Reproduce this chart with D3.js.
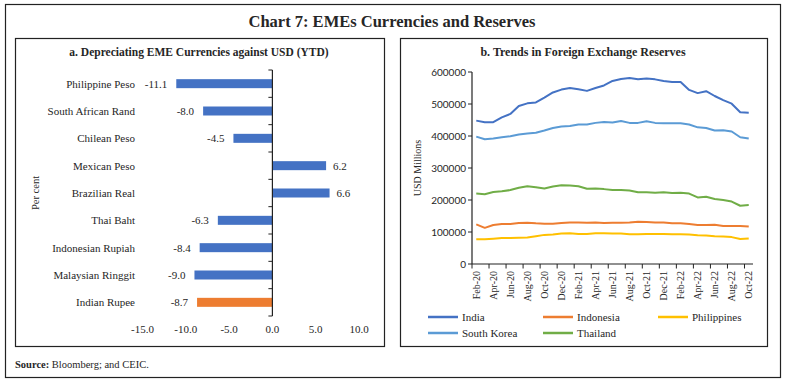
<!DOCTYPE html>
<html><head><meta charset="utf-8">
<script src="https://cdn.jsdelivr.net/npm/d3@7"></script>
<style>body{margin:0;background:#fff}svg{display:block}</style>
</head><body>
<svg id="c" width="785" height="383"></svg>
<script>
// ---- Data: panel a ----
const currencies = ["Philippine Peso","South African Rand","Chilean Peso","Mexican Peso","Brazilian Real","Thai Baht","Indonesian Rupiah","Malaysian Ringgit","Indian Rupee"];
const changes = [-11.1,-8.0,-4.5,6.2,6.6,-6.3,-8.4,-9.0,-8.7];
const xTicksA = [-15,-10,-5,0,5,10];
// ---- Data: panel b ----
const months = ["Feb-20","Mar-20","Apr-20","May-20","Jun-20","Jul-20","Aug-20","Sep-20","Oct-20","Nov-20","Dec-20","Jan-21","Feb-21","Mar-21","Apr-21","May-21","Jun-21","Jul-21","Aug-21","Sep-21","Oct-21","Nov-21","Dec-21","Jan-22","Feb-22","Mar-22","Apr-22","May-22","Jun-22","Jul-22","Aug-22","Sep-22","Oct-22"];
const india = [448000,443000,443000,458000,469000,494000,502000,505000,520000,536000,545000,550000,546000,541000,550000,558000,572000,578000,581000,577000,580000,577000,572000,569000,569000,544000,534000,540000,525000,512000,501000,474000,473000];
const indonesia = [124000,113000,122000,125000,125000,128000,129000,127000,126000,126000,128000,130000,130000,129000,130000,128000,129000,129000,130000,132000,131000,130000,130000,127000,127000,125000,122000,122000,123000,119000,119000,119000,117000];
const philippines = [77000,77000,79000,81000,81000,82000,83000,87000,91000,92000,95000,96000,94000,94000,96000,96000,95000,95000,93000,93000,94000,94000,94000,93000,93000,92000,90000,89000,87000,86000,84000,78000,80000];
const southKorea = [398000,390000,392000,396000,399000,405000,408000,410000,417000,425000,430000,431000,436000,436000,441000,444000,442000,447000,441000,441000,446000,441000,440000,440000,440000,436000,427000,425000,417000,418000,414000,396000,392000];
const thailand = [220000,218000,225000,227000,231000,238000,243000,240000,236000,242000,246000,245000,243000,235000,236000,234000,231000,231000,230000,224000,224000,223000,224000,222000,223000,220000,208000,210000,203000,200000,195000,182000,184000];
const yTicksB = [0,100000,200000,300000,400000,500000,600000];
const seriesNames = ["India","Indonesia","Philippines","South Korea","Thailand"];
const seriesColors = ["#4472C4","#ED7D31","#FFC000","#5B9BD5","#70AD47"];
const seriesData = [india, indonesia, philippines, southKorea, thailand];

const SERIF = "'Liberation Serif','DejaVu Serif',serif";
const SANS = "Lato,'Open Sans',sans-serif";
const TXT = "#262626";
const svg = d3.select("#c");

// frames
svg.append("rect").attr("x",5.5).attr("y",4.5).attr("width",775).attr("height",373).attr("fill","none").attr("stroke","#222").attr("stroke-width",1.2);
svg.append("rect").attr("x",15.5).attr("y",38.5).attr("width",369).attr("height",308).attr("fill","none").attr("stroke","#222").attr("stroke-width",1.2);
svg.append("rect").attr("x",400.5).attr("y",38.5).attr("width",367).attr("height",308).attr("fill","none").attr("stroke","#222").attr("stroke-width",1.2);

svg.append("text").attr("x",392).attr("y",27).attr("text-anchor","middle").attr("font-family",SERIF).attr("font-weight","bold").attr("font-size",16.5).attr("fill",TXT).text("Chart 7: EMEs Currencies and Reserves");
svg.append("text").attr("x",199).attr("y",56).attr("text-anchor","middle").attr("font-family",SERIF).attr("font-weight","bold").attr("font-size",11.5).attr("fill",TXT).text("a. Depreciating EME Currencies against USD (YTD)");
svg.append("text").attr("x",583).attr("y",56).attr("text-anchor","middle").attr("font-family",SERIF).attr("font-weight","bold").attr("font-size",12).attr("fill",TXT).text("b. Trends in Foreign Exchange Reserves");

const src = svg.append("text").attr("x",15).attr("y",368).attr("font-family",SERIF).attr("font-size",10.5).attr("fill",TXT);
src.append("tspan").attr("font-weight","bold").text("Source:");
src.append("tspan").text(" Bloomberg; and CEIC.");

// ---- Panel a ----
const xa = d3.scaleLinear().domain([-15,10]).range([142.5,359]);
const ya = d3.scaleBand().domain(currencies).range([70,316]);
const bw = ya.bandwidth();
const ga = svg.append("g");
ga.selectAll("rect.bar").data(currencies).join("rect")
  .attr("x",(d,i)=>Math.min(xa(0),xa(changes[i])))
  .attr("width",(d,i)=>Math.abs(xa(changes[i])-xa(0)))
  .attr("y",d=>ya(d)+bw/2-4.5).attr("height",9)
  .attr("fill",(d,i)=>d==="Indian Rupee"?"#ED7D31":"#4472C4");
ga.append("line").attr("x1",xa(0)).attr("x2",xa(0)).attr("y1",70).attr("y2",316).attr("stroke","#222").attr("stroke-width",1.2);
const bounds = currencies.map(c=>ya(c)).concat([316]);
ga.selectAll("line.tk").data(bounds).join("line").attr("x1",xa(0)-4).attr("x2",xa(0)).attr("y1",d=>d).attr("y2",d=>d).attr("stroke","#222");
ga.selectAll("text.cat").data(currencies).join("text")
  .attr("x",135).attr("y",d=>ya(d)+bw/2).attr("dy","0.35em").attr("text-anchor","end")
  .attr("font-family",SERIF).attr("font-size",11).attr("fill",TXT).text(d=>d);
ga.selectAll("text.val").data(changes).join("text")
  .attr("x",d=>d<0?xa(d)-9:xa(d)+7).attr("y",(d,i)=>ya(currencies[i])+bw/2).attr("dy","0.35em")
  .attr("text-anchor",d=>d<0?"end":"start")
  .attr("font-family",SERIF).attr("font-size",11).attr("fill",TXT).text(d=>d.toFixed(1));
ga.selectAll("text.xt").data(xTicksA).join("text")
  .attr("x",d=>xa(d)).attr("y",333).attr("text-anchor","middle")
  .attr("font-family",SERIF).attr("font-size",11).attr("fill",TXT).text(d=>d.toFixed(1));
ga.append("text").attr("transform","translate(39,193) rotate(-90)").attr("text-anchor","middle")
  .attr("font-family",SERIF).attr("font-size",10.5).attr("fill",TXT).text("Per cent");

// ---- Panel b ----
const xb = d3.scaleBand().domain(months).range([472,753]);
const yb = d3.scaleLinear().domain([0,600000]).range([264,72]);
const cx = m => xb(m)+xb.bandwidth()/2;
const gb = svg.append("g");
const line = d3.line().x((d,i)=>cx(months[i])).y(d=>yb(d));
seriesData.forEach((s,k)=>{
  gb.append("path").datum(s).attr("d",line).attr("fill","none").attr("stroke",seriesColors[k]).attr("stroke-width",2).attr("stroke-linejoin","round");
});
gb.append("line").attr("x1",472).attr("x2",472).attr("y1",72).attr("y2",264).attr("stroke","#222").attr("stroke-width",1.2);
gb.append("line").attr("x1",472).attr("x2",753).attr("y1",264).attr("y2",264).attr("stroke","#222").attr("stroke-width",1.2);
gb.selectAll("line.yt").data(yTicksB).join("line").attr("x1",468).attr("x2",472).attr("y1",d=>yb(d)).attr("y2",d=>yb(d)).attr("stroke","#222");
gb.selectAll("text.yt").data(yTicksB).join("text").attr("x",466).attr("y",d=>yb(d)).attr("dy","0.35em").attr("text-anchor","end")
  .attr("font-family",SANS).attr("font-size",10).attr("fill",TXT).text(d=>d);
const xtb = months.filter((m,i)=>i%2===0);
gb.selectAll("line.xt").data(xtb).join("line").attr("x1",d=>xb(d)).attr("x2",d=>xb(d)).attr("y1",264).attr("y2",268.5).attr("stroke","#222");
gb.selectAll("text.xt").data(xtb).join("text")
  .attr("transform",d=>`translate(${cx(d)},271) rotate(-90)`).attr("dy","0.35em").attr("text-anchor","end")
  .attr("font-family",SERIF).attr("font-size",10).attr("fill",TXT).text(d=>d);
gb.append("text").attr("transform","translate(421,168) rotate(-90)").attr("text-anchor","middle")
  .attr("font-family",SERIF).attr("font-size",10).attr("fill",TXT).text("USD Millions");
const legPos = [[428,317],[543,317],[658,317],[428,333],[543,333]];
seriesNames.forEach((n,k)=>{
  const [lx,ly] = legPos[k];
  gb.append("line").attr("x1",lx).attr("x2",lx+30).attr("y1",ly).attr("y2",ly).attr("stroke",seriesColors[k]).attr("stroke-width",2.5);
  gb.append("text").attr("x",lx+34).attr("y",ly).attr("dy","0.35em").attr("font-family",SERIF).attr("font-size",11).attr("fill",TXT).text(n);
});
</script>
</body></html>
